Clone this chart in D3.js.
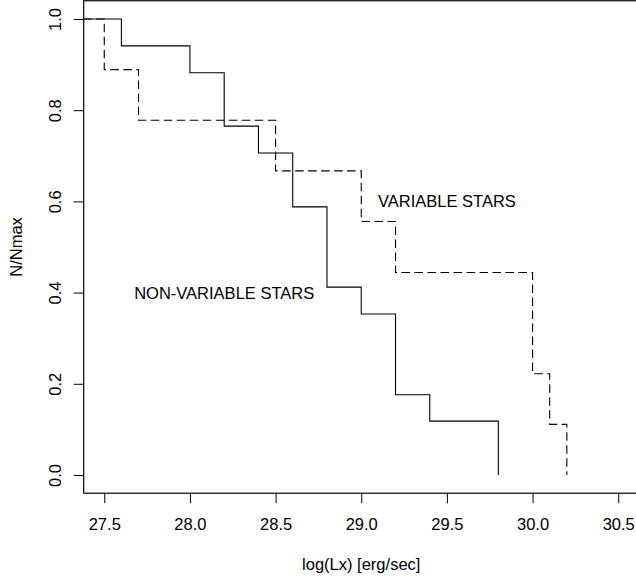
<!DOCTYPE html>
<html>
<head>
<meta charset="utf-8">
<script src="https://cdn.jsdelivr.net/npm/d3@7/dist/d3.min.js"></script>
<style>
  html, body { margin: 0; padding: 0; background: #fff; }
  svg { display: block; }
  text { font-family: "Liberation Sans", Arial, Helvetica, sans-serif; fill: #000; }
</style>
</head>
<body>
<svg id="chart" width="636" height="578"></svg>
<script>
// ---- data ----
const nonVarX = [27.3, 27.6, 28.0, 28.2, 28.4, 28.6, 28.8, 29.0, 29.2, 29.4, 29.8];
const nonVarY = [1.0, 0.941, 0.882, 0.765, 0.706, 0.588, 0.412, 0.353, 0.176, 0.118, 0.0];
const varX = [27.3, 27.5, 27.7, 28.5, 29.0, 29.2, 30.0, 30.1, 30.2];
const varY = [1.0, 0.889, 0.778, 0.667, 0.556, 0.444, 0.222, 0.111, 0.0];
const xTicks = [27.5, 28.0, 28.5, 29.0, 29.5, 30.0, 30.5];
const yTicks = [0.0, 0.2, 0.4, 0.6, 0.8, 1.0];
const labels = [
  { x: 29.5, y: 0.6, text: "VARIABLE STARS" },
  { x: 28.2, y: 0.4, text: "NON-VARIABLE STARS" }
];
const xTitle = "log(Lx) [erg/sec]";
const yTitle = "N/Nmax";
const xLim = [27.5, 30.5];
const yLim = [0.0, 1.0];

// ---- layout ----
const svg = d3.select("#chart");
const pLeft = 83.7, pRight = 638.8, pTop = 0.76, pBottom = 493.2;
const fontSize = 16.5;

const padX = (xLim[1] - xLim[0]) * 0.04;
const padY = (yLim[1] - yLim[0]) * 0.04;
const x = d3.scaleLinear().domain([xLim[0] - padX, xLim[1] + padX]).range([pLeft, pRight]);
const y = d3.scaleLinear().domain([yLim[0] - padY, yLim[1] + padY]).range([pBottom, pTop]);

svg.append("defs").append("clipPath").attr("id", "plotclip")
  .append("rect").attr("x", pLeft).attr("y", pTop).attr("width", pRight - pLeft).attr("height", pBottom - pTop);

const line = d3.line().x(d => x(d[0])).y(d => y(d[1])).curve(d3.curveStepAfter);

const g = svg.append("g").attr("clip-path", "url(#plotclip)");
g.append("path")
  .datum(nonVarX.map((v, i) => [v, nonVarY[i]]))
  .attr("d", line)
  .attr("fill", "none").attr("stroke", "#000").attr("stroke-width", 1.1);
g.append("path")
  .datum(varX.map((v, i) => [v, varY[i]]))
  .attr("d", line)
  .attr("fill", "none").attr("stroke", "#000").attr("stroke-width", 1.1)
  .attr("stroke-dasharray", "8.5,4.5");

// ---- box ----
svg.append("rect")
  .attr("x", pLeft).attr("y", pTop).attr("width", pRight - pLeft).attr("height", pBottom - pTop)
  .attr("fill", "none").attr("stroke", "#000").attr("stroke-width", 1.2);

// ---- axes ----
const xAxis = svg.append("g").attr("transform", `translate(0,${pBottom})`)
  .call(d3.axisBottom(x).tickValues(xTicks).tickFormat(d3.format(".1f")).tickSize(10).tickSizeOuter(0));
xAxis.select(".domain").remove();
xAxis.selectAll(".tick line").attr("stroke", "#000");
xAxis.selectAll(".tick text")
  .attr("y", 36.8).attr("dy", 0)
  .style("font-size", fontSize + "px")
  .style("font-family", '"Liberation Sans", Arial, sans-serif');

const yAxis = svg.append("g").attr("transform", `translate(${pLeft},0)`)
  .call(d3.axisLeft(y).tickValues(yTicks).tickFormat(d3.format(".1f")).tickSize(10).tickSizeOuter(0));
yAxis.select(".domain").remove();
yAxis.selectAll(".tick line").attr("stroke", "#000");
yAxis.selectAll(".tick text")
  .attr("x", 0).attr("y", 0).attr("dy", 0)
  .attr("text-anchor", "middle")
  .attr("transform", "translate(-22.5,0) rotate(-90)")
  .style("font-size", fontSize + "px")
  .style("font-family", '"Liberation Sans", Arial, sans-serif');

// ---- titles ----
svg.append("text")
  .attr("x", (pLeft + pRight) / 2).attr("y", 570)
  .attr("text-anchor", "middle")
  .style("font-size", fontSize + "px")
  .text(xTitle);
svg.append("text")
  .attr("transform", `translate(21.7,${(pTop + pBottom) / 2}) rotate(-90)`)
  .attr("text-anchor", "middle")
  .style("font-size", fontSize + "px")
  .text(yTitle);

// ---- annotations ----
svg.selectAll(".ann").data(labels).enter().append("text")
  .attr("class", "ann")
  .attr("x", d => x(d.x)).attr("y", d => y(d.y))
  .attr("dy", "0.36em")
  .attr("text-anchor", "middle")
  .style("font-size", fontSize + "px")
  .text(d => d.text);
</script>
</body>
</html>
